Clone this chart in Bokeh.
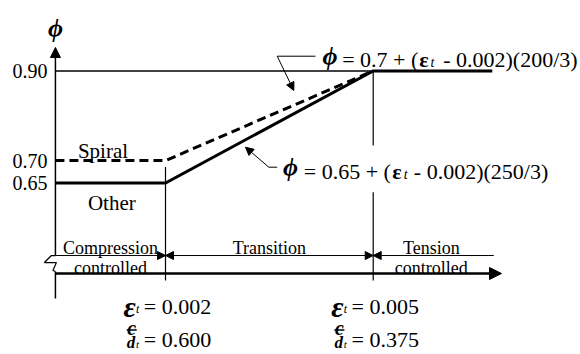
import numpy as np
from bokeh.plotting import figure
from bokeh.models import Range1d, Arrow, NormalHead
from bokeh.core.properties import value
from bokeh.embed import file_html
from bokeh.resources import INLINE

# ---------------- data ----------------
eps_t = [0.002, 0.005]                 # strain limits
cd_ratio = ["0.600", "0.375"]          # c/d_t at those limits
eps_labels = ["0.002", "0.005"]
phi_ticks = [0.65, 0.70, 0.90]
phi_tick_labels = ["0.65", "0.70", "0.90"]
eps_origin = 0.00041                   # where the (broken) strain axis starts
eps_end = 0.00672                      # end of the drawn phi curve
eps_other = [eps_origin, 0.002, 0.005, eps_end]
phi_other = [0.65, 0.65, 0.90, 0.90]
eps_spiral = [eps_origin, 0.002, 0.005]
phi_spiral = [0.70, 0.70, 0.90]
zone_top = ["Compression", "Transition", "Tension"]
zone_bottom = ["controlled", "", "controlled"]
formula_spiral = ["= 0.7 + (", "\u03b5", "t", "- 0.002)(200/3)"]
formula_other = ["= 0.65 + (", "\u03b5", "t", "- 0.002)(250/3)"]
PHI = "\u03d5"

# ---------------- layout helpers ----------------
PX = 1 / 69233.0     # strain per screen pixel
PY = 1 / 448.6       # phi per screen pixel
Y_XAXIS = 0.4483
Y_DIM = 0.4884
Y_VBOT = 0.4327
Y_TIP = 0.9521
Y_YBOT = 0.3926
SERIF = value("Liberation Serif")
BLACK = "#000000"

p = figure(width=580, height=354, output_backend="svg", toolbar_location=None,
           x_range=Range1d(-0.0003833, 0.0079942), y_range=Range1d(0.26777, 1.05689),
           x_axis_location=None, y_axis_location=None, min_border=0)
p.grid.visible = False
p.outline_line_color = None
p.background_fill_color = "white"
p.border_fill_color = "white"


def txt(x, y, s, size="22px", style="normal", align="left", baseline="alphabetic"):
    p.text(x=[x], y=[y], text=[s], text_font=SERIF, text_font_size=size,
           text_font_style=style, text_align=align, text_baseline=baseline,
           text_color=BLACK)


# ---------------- axes ----------------
p.add_layout(Arrow(x_start=eps_origin, y_start=Y_DIM, x_end=eps_origin, y_end=Y_TIP,
                   end=NormalHead(size=10, fill_color=BLACK, line_color=BLACK),
                   line_width=1.5, line_color=BLACK))
p.line([eps_origin, eps_origin], [Y_DIM - 16 * PY, Y_YBOT], line_width=1.5, color=BLACK)
# break symbol
zx = eps_origin + np.array([0, -4, -11, 1, -2.5, 0]) * PX
zy = Y_DIM - np.array([0, 0, 7, 7, 15, 16]) * PY
p.line(zx, zy, line_width=1.2, color=BLACK)

p.add_layout(Arrow(x_start=eps_origin, y_start=Y_XAXIS, x_end=0.006853, y_end=Y_XAXIS,
                   end=NormalHead(size=12, fill_color=BLACK, line_color=BLACK),
                   line_width=2.5, line_color=BLACK))

# dimension arrows
hd = dict(size=8, fill_color=BLACK, line_color=BLACK)
p.add_layout(Arrow(x_start=eps_origin, y_start=Y_DIM, x_end=eps_t[0], y_end=Y_DIM,
                   start=None, end=NormalHead(**hd), line_width=1, line_color=BLACK))
p.add_layout(Arrow(x_start=eps_t[0], y_start=Y_DIM, x_end=eps_t[1], y_end=Y_DIM,
                   start=NormalHead(**hd), end=NormalHead(**hd), line_width=1, line_color=BLACK))
p.add_layout(Arrow(x_start=eps_t[1], y_start=Y_DIM, x_end=0.006742, y_end=Y_DIM,
                   start=NormalHead(**hd), end=None, line_width=1, line_color=BLACK))

# vertical limit lines
p.line([eps_t[0], eps_t[0]], [phi_spiral[0] - 6.5 * PY, Y_VBOT], line_width=1.2, color=BLACK)
p.line([eps_t[1], eps_t[1]], [phi_other[2], 0.7337], line_width=1.2, color=BLACK)
p.line([eps_t[1], eps_t[1]], [0.6296, Y_VBOT], line_width=1.2, color=BLACK)

# thin 0.90 reference line
p.line([eps_origin, eps_t[1]], [phi_ticks[2], phi_ticks[2]], line_width=1.5, color=BLACK)

# ---------------- curves ----------------
p.line(eps_other, phi_other, line_width=3, color=BLACK, line_join="miter")
p.line(eps_spiral, phi_spiral, line_width=3, color=BLACK, line_dash="9 5")

# ---------------- texts ----------------
txt(eps_origin, 0.9789 + 7 * PY, PHI, size="26px", style="bold italic", align="center")
for v, s in zip(phi_ticks, phi_tick_labels):
    txt(eps_origin - 8 * PX, v, s, size="20px", align="right", baseline="middle")

txt(0.0010973, 0.7225, "Spiral", size="21px", align="center")
txt(0.0012244, 0.6044, "Other", size="21px", align="center")

zone_x = [(eps_origin + eps_t[0]) / 2, (eps_t[0] + eps_t[1]) / 2, 0.005839]
for zx_, a, b in zip(zone_x, zone_top, zone_bottom):
    txt(zx_, 0.5018 + 1.5 * PY, a, size="18px", align="center")
    if b:
        txt(zx_, 0.4595, b, size="18px", align="center")

# formula for spiral
txt(0.004376, 0.9231 + 4 * PY, PHI, size="26px", style="bold italic", align="center")
txt(0.0045522, 0.9254, formula_spiral[0])
txt(0.0057077 - 3 * PX, 0.9254, formula_spiral[1], style="bold")
txt(0.005871 - 3 * PX, 0.9187, formula_spiral[2], size="14px", style="italic")
txt(0.006011, 0.9254, formula_spiral[3])
p.line([0.0036134, 0.0041666], [0.9327, 0.9327], line_width=1, color=BLACK)
p.add_layout(Arrow(x_start=0.0036134, y_start=0.9327, x_end=0.0038532, y_end=0.8563,
                   end=NormalHead(size=8, fill_color=BLACK, line_color=BLACK),
                   line_width=1, line_color=BLACK))

# formula for other
txt(0.0038055, 0.6757 + 4 * PY, PHI, size="26px", style="bold italic", align="center")
txt(0.0039976, 0.6757, formula_other[0])
txt(0.0052745, 0.6757, formula_other[1], style="bold")
txt(0.005442, 0.669, formula_other[2], size="14px", style="italic")
txt(0.0055865, 0.6757, formula_other[3])
p.line([0.003492, 0.0036134], [0.6853, 0.6853], line_width=1, color=BLACK)
p.add_layout(Arrow(x_start=0.003492, y_start=0.6853, x_end=0.0031555, y_end=0.7299,
                   end=NormalHead(size=8, fill_color=BLACK, line_color=BLACK),
                   line_width=1, line_color=BLACK))

# bottom strain and c/d labels
Y_ROW1 = 0.3748                 # baseline of the strain row
Y_CBASE = 0.3179 + 4 * PY       # baseline of the "c" numerator
Y_BAR = Y_CBASE - 2 * PY
Y_DBASE = Y_BAR - 12.5 * PY
Y_ROW2 = 0.2923 + 3.5 * PY
for e, lab, cd in zip(eps_t, eps_labels, cd_ratio):
    txt(e - 42 * PX, Y_ROW1, "\u03b5", size="30px", style="bold italic")
    txt(e - 29.5 * PX, Y_ROW1 - 3 * PY, "t", size="12px", style="italic")
    txt(e - 21.7 * PX, Y_ROW1, "= " + lab)
    txt(e - 33.8 * PX, Y_CBASE, "c", size="20px", style="bold italic", align="center")
    p.line([e - 38.8 * PX, e - 28.8 * PX], [Y_BAR, Y_BAR], line_width=1.5, color=BLACK)
    txt(e - 34.5 * PX, Y_DBASE, "d", size="17px", style="bold italic", align="center")
    txt(e - 29.5 * PX, Y_DBASE - 1.5 * PY, "t", size="11px", style="italic")
    txt(e - 21.7 * PX, Y_ROW2, "= " + cd)

open("out.html", "w").write(file_html(p, INLINE))
